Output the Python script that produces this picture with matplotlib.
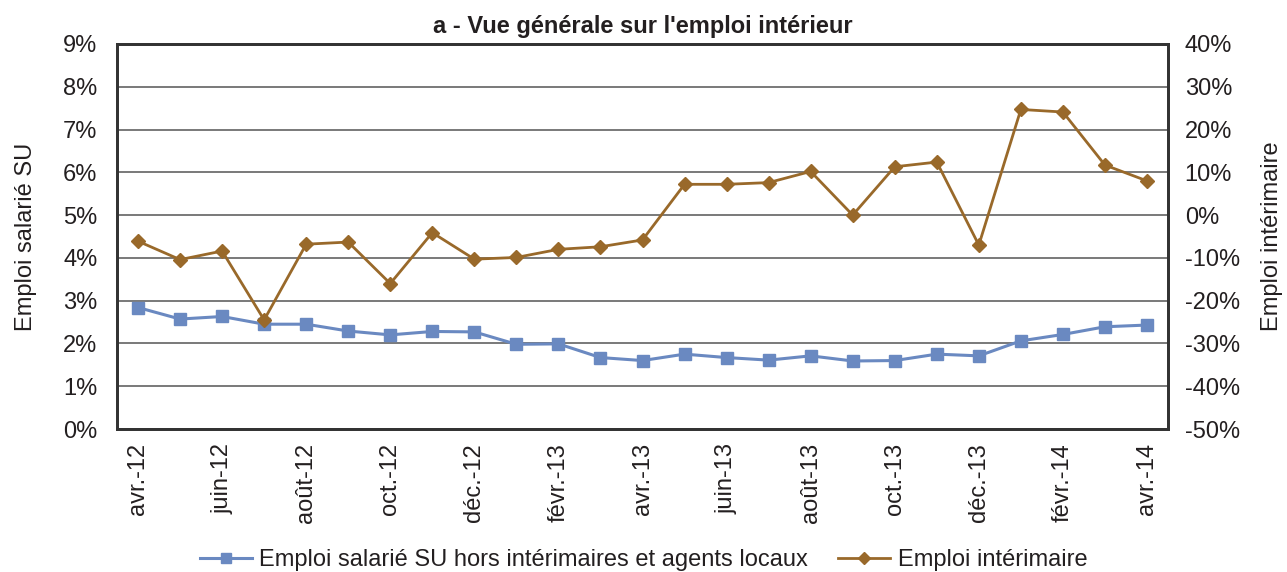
import matplotlib
matplotlib.use("Agg")
import matplotlib.pyplot as plt
from matplotlib.ticker import FuncFormatter

plt.rcParams['font.family'] = ['Liberation Sans', 'DejaVu Sans']

months = ["avr.-12", "mai-12", "juin-12", "juil.-12", "août-12", "sept.-12", "oct.-12",
          "nov.-12", "déc.-12", "janv.-13", "févr.-13", "mars-13", "avr.-13", "mai-13",
          "juin-13", "juil.-13", "août-13", "sept.-13", "oct.-13", "nov.-13", "déc.-13",
          "janv.-14", "févr.-14", "mars-14", "avr.-14"]

salarie = [2.84, 2.57, 2.63, 2.45, 2.45, 2.29, 2.20, 2.28, 2.27, 1.98, 1.99, 1.67, 1.60,
           1.75, 1.67, 1.61, 1.71, 1.59, 1.60, 1.75, 1.71, 2.06, 2.21, 2.39, 2.43]

interim = [-6.1, -10.4, -8.4, -24.5, -6.8, -6.3, -16.0, -4.1, -10.3, -9.9, -8.0, -7.4,
           -5.8, 7.2, 7.2, 7.6, 10.2, 0.0, 11.3, 12.4, -7.0, 24.7, 24.1, 11.7, 8.0]

blue = "#6a89c1"
brown = "#99692a"
txt = "#231f20"

fig = plt.figure(figsize=(12.87, 5.72), dpi=100)
ax = fig.add_axes([117/1287, 1-429/572, 1051/1287, 385/572])
ax2 = ax.twinx()

x = list(range(len(months)))
l1, = ax.plot(x, salarie, color=blue, lw=2.2, marker='s', ms=9, zorder=3,
              label="Emploi salarié SU hors intérimaires et agents locaux")
l2, = ax2.plot(x, interim, color=brown, lw=2.0, marker='D', ms=7.5, zorder=3,
               label="Emploi intérimaire")

ax.set_xlim(-0.5, len(months) - 0.5)
ax.set_ylim(0, 9)
ax.set_yticks(range(0, 10))
ax.yaxis.set_major_formatter(FuncFormatter(lambda v, p: f"{int(round(v))}%"))
ax2.set_ylim(-50, 40)
ax2.set_yticks(range(-50, 41, 10))
ax2.yaxis.set_major_formatter(FuncFormatter(lambda v, p: f"{int(round(v))}%"))

ax.set_xticks(x[::2])
ax.set_xticklabels(months[::2], rotation=90, fontsize=17, color=txt)
ax.grid(axis='y', color='#555555', lw=1.1)
ax.set_axisbelow(True)
for a in (ax, ax2):
    a.tick_params(length=0, labelsize=17, colors=txt)
    for s in a.spines.values():
        s.set_color('#333333')
        s.set_linewidth(2)
ax.tick_params(axis='x', pad=10, labelsize=17)
ax.tick_params(axis='y', pad=14)
ax2.tick_params(axis='y', pad=12)

ax.set_ylabel("Emploi salarié SU", fontsize=17, color=txt, labelpad=19)
ax2.set_ylabel("Emploi intérimaire", fontsize=17, color=txt, labelpad=15)
ax.set_title("a - Vue générale sur l'emploi intérieur", fontsize=17, fontweight='bold',
             color=txt, pad=8)

fig.legend(handles=[l1, l2], loc='lower center', bbox_to_anchor=(0.5, -0.035), ncol=2,
           frameon=False, fontsize=17, handlelength=2.2, columnspacing=1.3,
           handletextpad=0.3, labelcolor=txt, markerscale=0.75)

fig.savefig("out.png", dpi=100)
